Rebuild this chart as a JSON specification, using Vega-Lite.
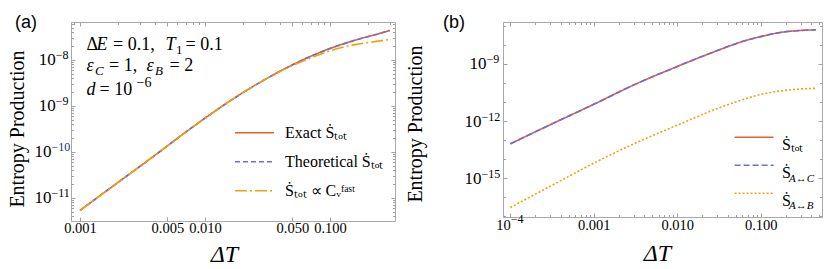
{
"$schema": "https://vega.github.io/schema/vega-lite/v6.json",
"autosize": {"type": "none"},
"padding": {"left": 71, "top": 22, "right": 759, "bottom": 247},
"background": "white",
"bounds": "flush",
"spacing": 108,
"resolve": {"scale": {"color": "independent", "strokeDash": "independent"}, "legend": {"color": "independent", "strokeDash": "independent"}},
"datasets": {
"a": [
{"dT":0.001,"S":5.37e-12,"series":"Exact"},
{"dT":0.001585,"S":1.35e-11,"series":"Exact"},
{"dT":0.002512,"S":3.39e-11,"series":"Exact"},
{"dT":0.003981,"S":8.51e-11,"series":"Exact"},
{"dT":0.00631,"S":2.19e-10,"series":"Exact"},
{"dT":0.01,"S":5.43e-10,"series":"Exact"},
{"dT":0.01585,"S":1.29e-9,"series":"Exact"},
{"dT":0.02512,"S":2.82e-9,"series":"Exact"},
{"dT":0.03981,"S":5.69e-9,"series":"Exact"},
{"dT":0.0631,"S":1.06e-8,"series":"Exact"},
{"dT":0.1,"S":1.78e-8,"series":"Exact"},
{"dT":0.1585,"S":2.69e-8,"series":"Exact"},
{"dT":0.2512,"S":3.80e-8,"series":"Exact"},
{"dT":0.3,"S":4.37e-8,"series":"Exact"},
{"dT":0.001,"S":5.37e-12,"series":"Theoretical"},
{"dT":0.001585,"S":1.35e-11,"series":"Theoretical"},
{"dT":0.002512,"S":3.39e-11,"series":"Theoretical"},
{"dT":0.003981,"S":8.51e-11,"series":"Theoretical"},
{"dT":0.00631,"S":2.19e-10,"series":"Theoretical"},
{"dT":0.01,"S":5.43e-10,"series":"Theoretical"},
{"dT":0.01585,"S":1.29e-9,"series":"Theoretical"},
{"dT":0.02512,"S":2.82e-9,"series":"Theoretical"},
{"dT":0.03981,"S":5.69e-9,"series":"Theoretical"},
{"dT":0.0631,"S":1.06e-8,"series":"Theoretical"},
{"dT":0.1,"S":1.78e-8,"series":"Theoretical"},
{"dT":0.1585,"S":2.69e-8,"series":"Theoretical"},
{"dT":0.2512,"S":3.80e-8,"series":"Theoretical"},
{"dT":0.3,"S":4.37e-8,"series":"Theoretical"},
{"dT":0.001,"S":5.37e-12,"series":"Fast"},
{"dT":0.001585,"S":1.35e-11,"series":"Fast"},
{"dT":0.002512,"S":3.39e-11,"series":"Fast"},
{"dT":0.003981,"S":8.51e-11,"series":"Fast"},
{"dT":0.00631,"S":2.19e-10,"series":"Fast"},
{"dT":0.01,"S":5.43e-10,"series":"Fast"},
{"dT":0.01585,"S":1.29e-9,"series":"Fast"},
{"dT":0.02512,"S":2.82e-9,"series":"Fast"},
{"dT":0.03981,"S":5.62e-9,"series":"Fast"},
{"dT":0.0631,"S":9.9e-9,"series":"Fast"},
{"dT":0.1,"S":1.585e-8,"series":"Fast"},
{"dT":0.1585,"S":2.16e-8,"series":"Fast"},
{"dT":0.2512,"S":2.60e-8,"series":"Fast"},
{"dT":0.3,"S":2.82e-8,"series":"Fast"}
],
"b": [
{"dT":0.0001,"S":6.31e-14,"series":"tot"},
{"dT":0.0003162,"S":7.08e-13,"series":"tot"},
{"dT":0.001,"S":7.59e-12,"series":"tot"},
{"dT":0.003162,"S":8.71e-11,"series":"tot"},
{"dT":0.01,"S":7.41e-10,"series":"tot"},
{"dT":0.03162,"S":5.50e-9,"series":"tot"},
{"dT":0.05623,"S":1.38e-8,"series":"tot"},
{"dT":0.1,"S":2.75e-8,"series":"tot"},
{"dT":0.1778,"S":4.68e-8,"series":"tot"},
{"dT":0.3162,"S":5.89e-8,"series":"tot"},
{"dT":0.457,"S":6.31e-8,"series":"tot"},
{"dT":0.0001,"S":6.31e-14,"series":"AC"},
{"dT":0.0003162,"S":7.08e-13,"series":"AC"},
{"dT":0.001,"S":7.59e-12,"series":"AC"},
{"dT":0.003162,"S":8.71e-11,"series":"AC"},
{"dT":0.01,"S":7.41e-10,"series":"AC"},
{"dT":0.03162,"S":5.50e-9,"series":"AC"},
{"dT":0.05623,"S":1.38e-8,"series":"AC"},
{"dT":0.1,"S":2.75e-8,"series":"AC"},
{"dT":0.1778,"S":4.68e-8,"series":"AC"},
{"dT":0.3162,"S":5.89e-8,"series":"AC"},
{"dT":0.457,"S":6.31e-8,"series":"AC"},
{"dT":0.0001,"S":2.82e-17,"series":"AB"},
{"dT":0.0003162,"S":4.17e-16,"series":"AB"},
{"dT":0.001,"S":6.03e-15,"series":"AB"},
{"dT":0.003162,"S":6.92e-14,"series":"AB"},
{"dT":0.01,"S":6.03e-13,"series":"AB"},
{"dT":0.03162,"S":4.90e-12,"series":"AB"},
{"dT":0.05623,"S":1.20e-11,"series":"AB"},
{"dT":0.1,"S":2.51e-11,"series":"AB"},
{"dT":0.1778,"S":3.89e-11,"series":"AB"},
{"dT":0.3162,"S":4.90e-11,"series":"AB"},
{"dT":0.457,"S":5.25e-11,"series":"AB"}
]
},
"hconcat": [
{
"width": 324, "height": 199,
"title": {"text": "(a)", "anchor": "start", "frame": "group", "font": "Liberation Sans", "fontSize": 18, "fontWeight": "normal", "color": "#000", "offset": 0, "dx": -56, "dy": 24, "baseline": "alphabetic"},
"resolve": {"axis": {"x": "independent", "y": "independent"}},
"layer": [
{
"data": {"name": "a"},
"transform": [{"filter": "datum.series == 'Exact'"}],
"mark": {"type": "line", "strokeWidth": 1.6, "interpolate": "monotone"},
"encoding": {
"x": {"field": "dT", "type": "quantitative", "scale": {"type": "log", "domain": [0.000847, 0.3311], "nice": false},
 "axis": {"values": [0.001, 0.005, 0.01, 0.05, 0.1], "format": ".3f", "labelFontSize": 14.5, "labelPadding": 4.5, "labelBaseline": "top", "tickSize": -4, "title": "ΔT", "titleFontSize": 24, "titleFontStyle": "italic", "titleX": 153, "titleY": 40.7, "titleBaseline": "alphabetic", "titleAlign": "center"}},
"y": {"field": "S", "type": "quantitative", "scale": {"type": "log", "domain": [3.162e-12, 6.70e-8], "nice": false},
 "axis": {"values": [1e-11, 1e-10, 1e-9, 1e-8], "labelExpr": "'10'", "labelFontSize": 17, "labelAlign": "right", "labelBaseline": "middle", "labelPadding": {"condition": {"test": "datum.value < 5e-10", "value": 24}, "value": 19.7}, "tickSize": -4, "title": "Entropy Production", "titleFontSize": 20, "titleAngle": 270, "titleX": -54, "titleY": 106.5, "titleBaseline": "middle", "titleAlign": "center"}},
"color": {"field": "series", "type": "nominal", "scale": {"domain": ["Exact", "Theoretical", "Fast"], "range": ["#E8612C", "#6A6FD6", "#F2A10C"]},
 "legend": {"orient": "none", "legendX": 163, "legendY": 100.7, "title": null, "symbolType": "stroke", "symbolSize": 1521, "symbolStrokeWidth": 1.6, "labelFontSize": 16, "labelOffset": 10, "rowPadding": 9, "clipHeight": 20, "padding": 0, "labelExpr": "datum.label == 'Exact' ? 'Exact Ṡₜₒₜ' : datum.label == 'Theoretical' ? 'Theoretical Ṡₜₒₜ' : 'Ṡₜₒₜ ∝ Cᵥᶠᵃˢᵗ'"}},
"strokeDash": {"field": "series", "type": "nominal", "scale": {"domain": ["Exact", "Theoretical", "Fast"], "range": [[1, 0], [5, 3], [12, 3, 2, 3]]},
 "legend": {"orient": "none", "legendX": 163, "legendY": 100.7, "title": null, "symbolType": "stroke", "symbolSize": 1521, "symbolStrokeWidth": 1.6, "labelFontSize": 16, "labelOffset": 10, "rowPadding": 9, "clipHeight": 20, "padding": 0, "labelExpr": "datum.label == 'Exact' ? 'Exact Ṡₜₒₜ' : datum.label == 'Theoretical' ? 'Theoretical Ṡₜₒₜ' : 'Ṡₜₒₜ ∝ Cᵥᶠᵃˢᵗ'"}}
}
},
{
"data": {"name": "a"},
"transform": [{"filter": "datum.series == 'Theoretical'"}],
"mark": {"type": "line", "strokeWidth": 1.6, "interpolate": "monotone"},
"encoding": {
"x": {"field": "dT", "type": "quantitative",
 "axis": {"values": [0.0009, 0.002, 0.003, 0.004, 0.006, 0.007, 0.008, 0.009, 0.02, 0.03, 0.04, 0.06, 0.07, 0.08, 0.09, 0.2, 0.3], "labels": false, "tickSize": -2.5, "title": null}},
"y": {"field": "S", "type": "quantitative",
 "axis": {"orient": "left", "values": [1e-11, 1e-10, 1e-9, 1e-8], "labelExpr": "datum.value < 5e-11 ? '−11' : datum.value < 5e-10 ? '−10' : datum.value < 5e-9 ? '−9' : '−8'", "labelFontSize": 12, "labelAlign": "left", "labelBaseline": "middle", "labelOffset": -5, "labelPadding": {"condition": {"test": "datum.value < 5e-10", "value": 20}, "value": 15.7}, "labelColor": {"condition": {"test": "datum.value > 5e-11 && datum.value < 5e-10", "value": "#25259a"}, "value": "#000"}, "ticks": false, "title": null}},
"color": {"field": "series", "type": "nominal"},
"strokeDash": {"field": "series", "type": "nominal"}
}
},
{
"data": {"name": "a"},
"transform": [{"filter": "datum.series == 'Fast'"}],
"mark": {"type": "line", "strokeWidth": 1.6, "interpolate": "monotone"},
"encoding": {
"x": {"field": "dT", "type": "quantitative", "axis": null},
"y": {"field": "S", "type": "quantitative",
 "axis": {"orient": "left", "values": [4e-12, 5e-12, 6e-12, 7e-12, 8e-12, 9e-12, 2e-11, 3e-11, 4e-11, 5e-11, 6e-11, 7e-11, 8e-11, 9e-11, 2e-10, 3e-10, 4e-10, 5e-10, 6e-10, 7e-10, 8e-10, 9e-10, 2e-9, 3e-9, 4e-9, 5e-9, 6e-9, 7e-9, 8e-9, 9e-9, 2e-8, 3e-8, 4e-8, 5e-8, 6e-8], "labels": false, "tickSize": -2.5, "title": null}},
"color": {"field": "series", "type": "nominal"},
"strokeDash": {"field": "series", "type": "nominal"}
}
},
{
"data": {"values": [{}]},
"mark": {"type": "text", "text": "Δ", "align": "left", "baseline": "alphabetic", "fontSize": 18, "dx": 15.5},
"encoding": {
"x": {"datum": 0.000847, "type": "quantitative", "axis": {"orient": "top", "values": [0.001, 0.005, 0.01, 0.05, 0.1], "labels": false, "tickSize": -4, "title": null}},
"y": {"datum": 1.69e-8, "type": "quantitative", "axis": {"orient": "right", "values": [1e-11, 1e-10, 1e-9, 1e-8], "labels": false, "tickSize": -4, "title": null}}
}
},
{
"data": {"values": [{}]},
"mark": {"type": "text", "text": "E", "align": "left", "baseline": "alphabetic", "fontSize": 18, "fontStyle": "italic", "dx": 25.5},
"encoding": {
"x": {"datum": 0.000847, "type": "quantitative", "axis": {"orient": "top", "values": [0.0009, 0.002, 0.003, 0.004, 0.006, 0.007, 0.008, 0.009, 0.02, 0.03, 0.04, 0.06, 0.07, 0.08, 0.09, 0.2, 0.3], "labels": false, "tickSize": -2.5, "title": null}},
"y": {"datum": 1.69e-8, "type": "quantitative", "axis": {"orient": "right", "values": [4e-12, 5e-12, 6e-12, 7e-12, 8e-12, 9e-12, 2e-11, 3e-11, 4e-11, 5e-11, 6e-11, 7e-11, 8e-11, 9e-11, 2e-10, 3e-10, 4e-10, 5e-10, 6e-10, 7e-10, 8e-10, 9e-10, 2e-9, 3e-9, 4e-9, 5e-9, 6e-9, 7e-9, 8e-9, 9e-9, 2e-8, 3e-8, 4e-8, 5e-8, 6e-8], "labels": false, "tickSize": -2.5, "title": null}}
}
},
{
"data": {"values": [{}]},
"mark": {"type": "text", "text": "= 0.1,", "align": "left", "baseline": "alphabetic", "fontSize": 18, "dx": 42},
"encoding": {"x": {"datum": 0.000847, "type": "quantitative", "axis": null}, "y": {"datum": 1.69e-8, "type": "quantitative", "axis": null}}
},
{
"data": {"values": [{}]},
"mark": {"type": "text", "text": "T", "align": "left", "baseline": "alphabetic", "fontSize": 18, "fontStyle": "italic", "dx": 94.5},
"encoding": {"x": {"datum": 0.000847, "type": "quantitative", "axis": null}, "y": {"datum": 1.69e-8, "type": "quantitative", "axis": null}}
},
{
"data": {"values": [{}]},
"mark": {"type": "text", "text": "1", "align": "left", "baseline": "alphabetic", "fontSize": 13, "dx": 105, "dy": 4},
"encoding": {"x": {"datum": 0.000847, "type": "quantitative", "axis": null}, "y": {"datum": 1.69e-8, "type": "quantitative", "axis": null}}
},
{
"data": {"values": [{}]},
"mark": {"type": "text", "text": "= 0.1", "align": "left", "baseline": "alphabetic", "fontSize": 18, "dx": 114.5},
"encoding": {"x": {"datum": 0.000847, "type": "quantitative", "axis": null}, "y": {"datum": 1.69e-8, "type": "quantitative", "axis": null}}
},
{
"data": {"values": [{}]},
"mark": {"type": "text", "text": "ε", "align": "left", "baseline": "alphabetic", "fontSize": 18, "fontStyle": "italic", "dx": 15.5},
"encoding": {"x": {"datum": 0.000847, "type": "quantitative", "axis": null}, "y": {"datum": 5.77e-9, "type": "quantitative", "axis": null}}
},
{
"data": {"values": [{}]},
"mark": {"type": "text", "text": "C", "align": "left", "baseline": "alphabetic", "fontSize": 13, "fontStyle": "italic", "dx": 24, "dy": 4},
"encoding": {"x": {"datum": 0.000847, "type": "quantitative", "axis": null}, "y": {"datum": 5.77e-9, "type": "quantitative", "axis": null}}
},
{
"data": {"values": [{}]},
"mark": {"type": "text", "text": "= 1,", "align": "left", "baseline": "alphabetic", "fontSize": 18, "dx": 38},
"encoding": {"x": {"datum": 0.000847, "type": "quantitative", "axis": null}, "y": {"datum": 5.77e-9, "type": "quantitative", "axis": null}}
},
{
"data": {"values": [{}]},
"mark": {"type": "text", "text": "ε", "align": "left", "baseline": "alphabetic", "fontSize": 18, "fontStyle": "italic", "dx": 75.5},
"encoding": {"x": {"datum": 0.000847, "type": "quantitative", "axis": null}, "y": {"datum": 5.77e-9, "type": "quantitative", "axis": null}}
},
{
"data": {"values": [{}]},
"mark": {"type": "text", "text": "B", "align": "left", "baseline": "alphabetic", "fontSize": 13, "fontStyle": "italic", "dx": 84, "dy": 4},
"encoding": {"x": {"datum": 0.000847, "type": "quantitative", "axis": null}, "y": {"datum": 5.77e-9, "type": "quantitative", "axis": null}}
},
{
"data": {"values": [{}]},
"mark": {"type": "text", "text": "= 2", "align": "left", "baseline": "alphabetic", "fontSize": 18, "dx": 98.5},
"encoding": {"x": {"datum": 0.000847, "type": "quantitative", "axis": null}, "y": {"datum": 5.77e-9, "type": "quantitative", "axis": null}}
},
{
"data": {"values": [{}]},
"mark": {"type": "text", "text": "d", "align": "left", "baseline": "alphabetic", "fontSize": 18, "fontStyle": "italic", "dx": 15.5},
"encoding": {"x": {"datum": 0.000847, "type": "quantitative", "axis": null}, "y": {"datum": 1.778e-9, "type": "quantitative", "axis": null}}
},
{
"data": {"values": [{}]},
"mark": {"type": "text", "text": "= 10", "align": "left", "baseline": "alphabetic", "fontSize": 18, "dx": 28.5},
"encoding": {"x": {"datum": 0.000847, "type": "quantitative", "axis": null}, "y": {"datum": 1.778e-9, "type": "quantitative", "axis": null}}
},
{
"data": {"values": [{}]},
"mark": {"type": "text", "text": "−6", "align": "left", "baseline": "alphabetic", "fontSize": 14, "dx": 65.5, "dy": -8},
"encoding": {"x": {"datum": 0.000847, "type": "quantitative", "axis": null}, "y": {"datum": 1.778e-9, "type": "quantitative", "axis": null}}
}
]
},
{
"width": 319, "height": 195,
"title": {"text": "(b)", "anchor": "start", "frame": "group", "font": "Liberation Sans", "fontSize": 18, "fontWeight": "normal", "color": "#000", "offset": 0, "dx": -60, "dy": 24, "baseline": "alphabetic"},
"resolve": {"axis": {"x": "independent", "y": "independent"}},
"layer": [
{
"data": {"name": "b"},
"transform": [{"filter": "datum.series == 'tot'"}],
"mark": {"type": "line", "strokeWidth": 1.6, "interpolate": "monotone"},
"encoding": {
"x": {"field": "dT", "type": "quantitative", "scale": {"type": "log", "domain": [8.18e-5, 0.541], "nice": false},
 "axis": {"values": [0.0001, 0.001, 0.01, 0.1], "labelExpr": "datum.value < 0.0005 ? '10' : format(datum.value, '.3f')", "labelAlign": {"condition": {"test": "datum.value < 0.0005", "value": "right"}, "value": "center"}, "labelFontSize": 14.5, "labelPadding": 5, "labelBaseline": "top", "tickSize": -4, "title": "ΔT", "titleFontSize": 24, "titleFontStyle": "italic", "titleX": 154, "titleY": 43, "titleBaseline": "alphabetic", "titleAlign": "center"}},
"y": {"field": "S", "type": "quantitative", "scale": {"type": "log", "domain": [8.91e-18, 1.62e-7], "nice": false},
 "axis": {"values": [1e-15, 1e-12, 1e-9], "labelExpr": "'10'", "labelFontSize": 17, "labelAlign": "right", "labelBaseline": "middle", "labelPadding": {"condition": {"test": "datum.value < 5e-10", "value": 26}, "value": 21}, "tickSize": -4, "title": "Entropy Production", "titleFontSize": 20, "titleAngle": 270, "titleX": -88, "titleY": 101.5, "titleBaseline": "middle", "titleAlign": "center"}},
"color": {"field": "series", "type": "nominal", "scale": {"domain": ["tot", "AC", "AB"], "range": ["#E8612C", "#6A6FD6", "#F2A10C"]},
 "legend": {"orient": "none", "legendX": 230.6, "legendY": 105.3, "title": null, "symbolType": "stroke", "symbolSize": 1521, "symbolStrokeWidth": 1.6, "labelFontSize": 16, "labelOffset": 7.3, "rowPadding": 2, "clipHeight": 20, "padding": 0, "labelBaseline": "top", "labelExpr": "datum.label == 'tot' ? 'Ṡₜₒₜ' : 'Ṡ'"}},
"strokeDash": {"field": "series", "type": "nominal", "scale": {"domain": ["tot", "AC", "AB"], "range": [[1, 0], [6, 3], [2, 2]]},
 "legend": {"orient": "none", "legendX": 230.6, "legendY": 105.3, "title": null, "symbolType": "stroke", "symbolSize": 1521, "symbolStrokeWidth": 1.6, "labelFontSize": 16, "labelOffset": 7.3, "rowPadding": 2, "clipHeight": 20, "padding": 0, "labelBaseline": "top", "labelExpr": "datum.label == 'tot' ? 'Ṡₜₒₜ' : 'Ṡ'"}}
}
},
{
"data": {"name": "b"},
"transform": [{"filter": "datum.series == 'AC'"}],
"mark": {"type": "line", "strokeWidth": 1.6, "interpolate": "monotone"},
"encoding": {
"x": {"field": "dT", "type": "quantitative",
 "axis": {"orient": "bottom", "values": [0.0001], "labelExpr": "'−4'", "labelFontSize": 12, "labelAlign": "left", "labelBaseline": "top", "labelPadding": -3.5, "ticks": false, "title": null}},
"y": {"field": "S", "type": "quantitative",
 "axis": {"orient": "left", "values": [1e-15, 1e-12, 1e-9], "labelExpr": "datum.value < 5e-14 ? '−15' : datum.value < 5e-11 ? '−12' : '−9'", "labelFontSize": 12, "labelAlign": "left", "labelBaseline": "middle", "labelOffset": -5, "labelPadding": {"condition": {"test": "datum.value < 5e-10", "value": 22}, "value": 17}, "ticks": false, "title": null}},
"color": {"field": "series", "type": "nominal"},
"strokeDash": {"field": "series", "type": "nominal"}
}
},
{
"data": {"name": "b"},
"transform": [{"filter": "datum.series == 'AB'"}],
"mark": {"type": "line", "strokeWidth": 1.6, "interpolate": "monotone"},
"encoding": {
"x": {"field": "dT", "type": "quantitative",
 "axis": {"orient": "bottom", "values": [0.0002, 0.0003, 0.0004, 0.0005, 0.0006, 0.0007, 0.0008, 0.0009, 0.002, 0.003, 0.004, 0.005, 0.006, 0.007, 0.008, 0.009, 0.02, 0.03, 0.04, 0.05, 0.06, 0.07, 0.08, 0.09, 0.2, 0.3, 0.4, 0.5], "labels": false, "tickSize": -2.5, "title": null}},
"y": {"field": "S", "type": "quantitative",
 "axis": {"orient": "left", "values": [1e-17, 1e-16, 1e-14, 1e-13, 1e-11, 1e-10, 1e-8, 1e-7], "labels": false, "tickSize": -2.5, "title": null}},
"color": {"field": "series", "type": "nominal"},
"strokeDash": {"field": "series", "type": "nominal"}
}
},
{
"data": {"values": [{}]},
"mark": {"type": "text", "text": "A↔C", "align": "left", "baseline": "alphabetic", "fontSize": 11, "fontStyle": "italic", "dx": 286},
"encoding": {
"x": {"datum": 8.18e-5, "type": "quantitative", "axis": {"orient": "top", "values": [0.0001, 0.001, 0.01, 0.1], "labels": false, "tickSize": -4, "title": null}},
"y": {"datum": 6.55e-16, "type": "quantitative", "axis": {"orient": "right", "values": [1e-15, 1e-12, 1e-9], "labels": false, "tickSize": -4, "title": null}}
}
},
{
"data": {"values": [{}]},
"mark": {"type": "text", "text": "A↔B", "align": "left", "baseline": "alphabetic", "fontSize": 11, "fontStyle": "italic", "dx": 286},
"encoding": {
"x": {"datum": 8.18e-5, "type": "quantitative", "axis": {"orient": "top", "values": [0.0002, 0.0003, 0.0004, 0.0005, 0.0006, 0.0007, 0.0008, 0.0009, 0.002, 0.003, 0.004, 0.005, 0.006, 0.007, 0.008, 0.009, 0.02, 0.03, 0.04, 0.05, 0.06, 0.07, 0.08, 0.09, 0.2, 0.3, 0.4, 0.5], "labels": false, "tickSize": -2.5, "title": null}},
"y": {"datum": 2.28e-17, "type": "quantitative", "axis": {"orient": "right", "values": [1e-17, 1e-16, 1e-14, 1e-13, 1e-11, 1e-10, 1e-8, 1e-7], "labels": false, "tickSize": -2.5, "title": null}}
}
}
]
}
],
"config": {
"view": {"stroke": "#a9a9a9", "strokeWidth": 1},
"axis": {"grid": false, "domain": false, "labelFont": "Liberation Serif", "labelColor": "#000", "tickColor": "#a0a0a0", "tickWidth": 1, "labelOverlap": false, "labelFlush": false, "labelBound": false, "titleFont": "Liberation Serif", "titleFontWeight": "normal", "titleColor": "#000"},
"legend": {"labelFont": "Liberation Serif", "labelColor": "#000", "labelLimit": 400, "padding": 0},
"text": {"font": "Liberation Serif", "color": "#000"}
}
}
